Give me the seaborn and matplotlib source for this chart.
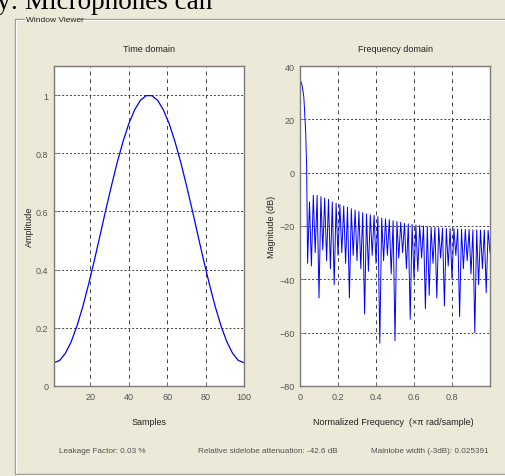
import numpy as np
import pandas as pd
import seaborn as sns
import matplotlib.pyplot as plt
from matplotlib.lines import Line2D

# time domain (window samples)
samples = [1, 4, 7, 10, 13, 16, 19, 22, 25, 28, 31, 34, 37, 40, 43, 46, 49,
           52, 55, 58, 61, 64, 67, 70, 73, 76, 79, 82, 85, 88, 91, 94, 97, 100]
amplitude = [0.08, 0.088, 0.113, 0.153, 0.207, 0.273, 0.349, 0.431, 0.518, 0.606, 0.69,
             0.77, 0.841, 0.902, 0.949, 0.982, 0.998,
             0.998, 0.982, 0.949, 0.902, 0.841, 0.77, 0.69, 0.606, 0.518, 0.431,
             0.349, 0.273, 0.207, 0.153, 0.113, 0.088, 0.08]

# frequency domain: main lobe, then null / sidelobe-peak levels (dB)
main_freq = [0.0, 0.005, 0.01, 0.015, 0.02, 0.025, 0.03, 0.035]
main_db = [34.6, 34.2, 33.0, 31.0, 28.5, 22.0, 15.0, 2.0]
null_db = [-34, -35, -30, -47, -29, -33, -36, -42, -31, -30,
           -34, -47, -31, -33, -36, -53, -37, -31, -34, -64,
           -33, -31, -38, -63, -32, -30, -36, -55, -40, -37,
           -32, -51, -46, -34, -47, -32, -50, -35, -40, -31,
           -54, -36, -33, -38, -60, -42, -36, -45, -30]
peak_db = [-11, -8.5, -8.5, -9, -9.5, -10, -11, -11.5, -12, -12.5,
           -13, -13.5, -14, -14.5, -15, -15.5, -15.8, -16, -16.5, -17,
           -17.3, -17.6, -18, -18.3, -18.6, -19, -19.2, -19.4, -19.6, -19.8,
           -20, -20.2, -20.4, -20.5, -20.6, -20.8, -20.9, -21, -21, -21.1,
           -21.2, -21.3, -21.3, -21.4, -21.4, -21.5, -21.5, -21.6]

null_freq = np.round(0.04 + 0.02 * np.arange(len(null_db)), 3)
peak_freq = np.round(null_freq[:-1] + 0.01, 3)

freq = list(main_freq)
mag = list(main_db)
for i in range(len(peak_db)):
    freq += [null_freq[i], peak_freq[i]]
    mag += [null_db[i], peak_db[i]]
freq.append(null_freq[-1])
mag.append(null_db[-1])
df_freq = pd.DataFrame({"freq": freq, "mag": mag})

sns.set_theme(style="white")
plt.rcParams["font.family"] = ["Liberation Sans Narrow", "Liberation Sans", "DejaVu Sans"]

W, H = 506, 477
bg = "#ECE9D8"
fig = plt.figure(figsize=(W / 100, H / 100), dpi=100, facecolor=bg)


def fx(x):
    return x / W


def fy(y):
    return 1 - y / H


tick_col = "#555555"
txt_col = "#222222"
grid_col = "#404040"
fs = 6.5


def style_axes(ax):
    ax.set_facecolor("white")
    for s in ax.spines.values():
        s.set_color("#7a7a7a")
        s.set_linewidth(1.0)
    ax.tick_params(direction="in", length=3, width=0.6, colors="#7a7a7a",
                   labelcolor=tick_col, labelsize=fs, pad=4,
                   bottom=True, left=True)
    ax.xaxis.grid(True, color=grid_col, linewidth=0.7, linestyle=(0, (4, 4)))
    ax.yaxis.grid(True, color=grid_col, linewidth=0.7, linestyle=(0, (2, 2)))
    ax.set_xlabel("")
    ax.set_ylabel("")


# left: time domain
ax1 = fig.add_axes([fx(54), fy(387), fx(190), 320 / H])
sns.lineplot(x=samples, y=amplitude, ax=ax1, color="#0000FF", linewidth=0.9)
ax1.set_xlim(1, 100)
ax1.set_ylim(0, 1.1)
ax1.set_xticks([20, 40, 60, 80, 100])
ax1.set_yticks([0, 0.2, 0.4, 0.6, 0.8, 1.0])
ax1.set_yticklabels(["0", "0.2", "0.4", "0.6", "0.8", "1"])
style_axes(ax1)

# right: frequency domain
ax2 = fig.add_axes([fx(300), fy(387), fx(190), 320 / H])
sns.lineplot(data=df_freq, x="freq", y="mag", ax=ax2, color="#0000FF",
             linewidth=0.7, sort=False, estimator=None)
ax2.set_xlim(0, 1)
ax2.set_ylim(-80, 40)
ax2.set_xticks([0, 0.2, 0.4, 0.6, 0.8])
ax2.set_xticklabels(["0", "0.2", "0.4", "0.6", "0.8"])
ax2.set_yticks([-80, -60, -40, -20, 0, 20, 40])
style_axes(ax2)

# titles and axis labels
fig.text(fx(149), fy(49), "Time domain", ha="center", va="center", fontsize=fs, color=txt_col)
fig.text(fx(395), fy(49), "Frequency domain", ha="center", va="center", fontsize=fs, color=txt_col)
fig.text(fx(149), fy(423), "Samples", ha="center", va="center", fontsize=fs, color=txt_col)
fig.text(fx(393), fy(423), "Normalized Frequency  (\u00d7\u03c0 rad/sample)",
         ha="center", va="center", fontsize=fs, color=txt_col)
fig.text(fx(29), fy(227), "Amplitude", ha="center", va="center", rotation=90,
         fontsize=fs, color=txt_col)
fig.text(fx(272), fy(227), "Magnitude (dB)", ha="center", va="center", rotation=90,
         fontsize=fs, color=txt_col)

# measurement strip
fs_info = 5.9
fig.text(fx(59), fy(452), "Leakage Factor: 0.03 %", ha="left", va="center",
         fontsize=fs_info, color="#505050")
fig.text(fx(198), fy(452), "Relative sidelobe attenuation: -42.6 dB", ha="left", va="center",
         fontsize=fs_info, color="#505050")
fig.text(fx(489), fy(452), "Mainlobe width (-3dB): 0.025391", ha="right", va="center",
         fontsize=fs_info, color="#505050")

# group box
frame_col = "#9a9a8c"
for xs, ys in [([15, 24], [20, 20]), ([80, 520], [20, 20]),
               ([15, 15], [20, 475]), ([15, 520], [475, 475])]:
    fig.add_artist(Line2D([fx(x) for x in xs], [fy(y) for y in ys],
                          color=frame_col, linewidth=1.0))
    fig.add_artist(Line2D([fx(x + 1) for x in xs], [fy(y + 1) for y in ys],
                          color="white", linewidth=0.8))
fig.text(fx(26), fy(20), "Window Viewer", ha="left", va="center", fontsize=6, color=txt_col)

# clipped line of document text above the screenshot
fig.text(fx(-3), fy(9), "y: Microphones can", ha="left", va="baseline",
         fontsize=19.5, color="black", family=["Liberation Serif", "DejaVu Serif"])

fig.savefig("out.png", dpi=100, facecolor=bg)
